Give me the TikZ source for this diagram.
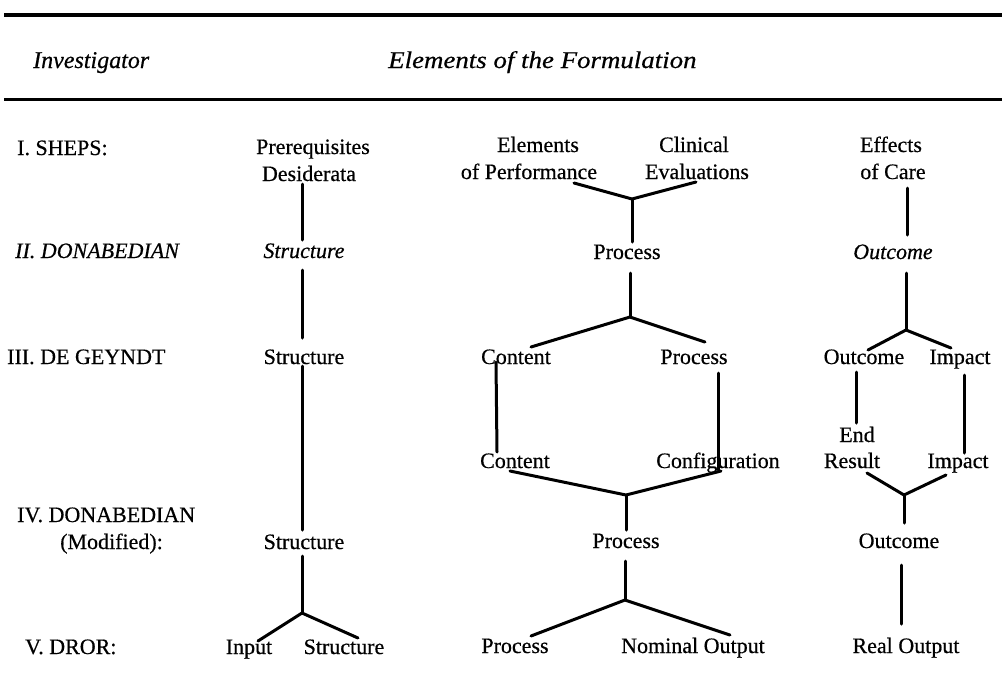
\documentclass[tikz,border=0pt]{standalone}
\usepackage{fontspec}
\setmainfont{Liberation Serif}[FakeBold=0.5]
\begin{document}
\begin{tikzpicture}[x=1pt,y=-1pt,
  lbl/.style={inner sep=0pt,anchor=base,font=\fontsize{22}{26}\selectfont},
  lbll/.style={lbl,anchor=base west},
  hdr/.style={inner sep=0pt,anchor=base west,font=\fontsize{24}{28}\selectfont\itshape},
  link/.style={line width=3pt,line cap=round,line join=round},
  rulethick/.style={line width=4pt},
  rulethin/.style={line width=3pt}]
\useasboundingbox (0,0) rectangle (1002,678);
% rules
\coordinate (r1a) at (4,15); \coordinate (r1b) at (1002,15);
\coordinate (r2a) at (4,99); \coordinate (r2b) at (1002,99);
\draw[rulethick] (r1a) -- (r1b);
\draw[rulethin] (r2a) -- (r2b);
% header
\node[hdr] (hinv) at (33,68) {Investigator};
\node[hdr] (helem) at (388,68) {\scalebox{1.12}[1]{Elements of the Formulation}};
% row labels
\node[lbll] (n1) at (17,155) {I. SHEPS:};
\node[lbll,font=\fontsize{22}{26}\selectfont\itshape] (n2) at (15,258) {II. DONABEDIAN};
\node[lbll] (n3) at (7,364) {III. DE GEYNDT};
\node[lbll] (n4) at (17,522) {IV. DONABEDIAN};
\node[lbll] (n4b) at (60,549) {(Modified):};
\node[lbll] (n5) at (25,654) {V. DROR:};
% column 1
\node[lbl] (prereq) at (313,154) {Prerequisites};
\node[lbl] (desid) at (309,181) {Desiderata};
\node[lbl,font=\fontsize{22}{26}\selectfont\itshape] (struc2) at (304,258) {Structure};
\node[lbl] (struc3) at (304,364) {Structure};
\node[lbl] (struc4) at (304,549) {Structure};
\node[lbl] (input) at (249,654) {Input};
\node[lbl] (struc5) at (344,654) {Structure};
% column 2
\node[lbl] (elem) at (538,152) {Elements};
\node[lbl] (perf) at (529,179) {of Performance};
\node[lbl] (clin) at (694,152) {Clinical};
\node[lbl] (eval) at (697,179) {Evaluations};
\node[lbl] (proc2) at (627,259) {Process};
\node[lbl] (cont3) at (516,364) {Content};
\node[lbl] (proc3) at (694,364) {Process};
\node[lbl] (cont4) at (515,468) {Content};
\node[lbl] (config) at (718,468) {Configuration};
\node[lbl] (proc4) at (626,548) {Process};
\node[lbl] (proc5) at (515,653) {Process};
\node[lbl] (nomout) at (693,653) {Nominal Output};
% column 3
\node[lbl] (effects) at (891,152) {Effects};
\node[lbl] (ofcare) at (893,179) {of Care};
\node[lbl,font=\fontsize{22}{26}\selectfont\itshape] (out2) at (893,259) {Outcome};
\node[lbl] (out3) at (864,364) {Outcome};
\node[lbl] (imp3) at (960,364) {Impact};
\node[lbl] (endr) at (857,442) {End};
\node[lbl] (result) at (852,468) {Result};
\node[lbl] (imp4) at (958,468) {Impact};
\node[lbl] (out4) at (899,548) {Outcome};
\node[lbl] (realout) at (906,653) {Real Output};
% junctions
\coordinate (jA) at (632,199);
\coordinate (jB) at (630,317);
\coordinate (jC) at (626,495);
\coordinate (jD) at (625,600);
\coordinate (jE) at (302,613);
\coordinate (jF) at (906,330);
\coordinate (jG) at (904,495);
% connector ends
\coordinate (desidB) at (302,184); \coordinate (struc2T) at (302,240);
\coordinate (struc2B) at (302,270); \coordinate (struc3T) at (302,338);
\coordinate (struc3B) at (302,366); \coordinate (struc4T) at (302,530);
\coordinate (struc4B) at (302,556);
\coordinate (inputT) at (258,641); \coordinate (struc5T) at (358,638);
\coordinate (perfB) at (574,183); \coordinate (evalB) at (696,182);
\coordinate (proc2T) at (632,242); \coordinate (proc2B) at (630,273);
\coordinate (cont3T) at (531,347); \coordinate (proc3T) at (705,342);
\coordinate (cont3B) at (496,362); \coordinate (cont4T) at (497,452);
\coordinate (proc3B) at (718,373); \coordinate (configT) at (718,470);
\coordinate (cont4B) at (510,471); \coordinate (configB) at (721,471);
\coordinate (proc4T) at (626,530); \coordinate (proc4B) at (625,561);
\coordinate (proc5T) at (531,636); \coordinate (nomoutT) at (730,635);
\coordinate (ofcareB) at (907,188); \coordinate (out2T) at (907,235);
\coordinate (out2B) at (906,273);
\coordinate (out3T) at (868,350); \coordinate (imp3T) at (951,348);
\coordinate (out3B) at (856,372); \coordinate (endT) at (856,423);
\coordinate (imp3B) at (964,375); \coordinate (imp4T) at (964,453);
\coordinate (resultB) at (867,473); \coordinate (imp4B) at (946,475);
\coordinate (out4T) at (904,523); \coordinate (out4B) at (901,565);
\coordinate (realT) at (901,624);
% connectors column 1
\draw[link] (desidB) -- (struc2T);
\draw[link] (struc2B) -- (struc3T);
\draw[link] (struc3B) -- (struc4T);
\draw[link] (struc4B) -- (jE);
\draw[link] (inputT) -- (jE) -- (struc5T);
% connectors column 2
\draw[link] (perfB) -- (jA) -- (evalB);
\draw[link] (jA) -- (proc2T);
\draw[link] (proc2B) -- (jB);
\draw[link] (cont3T) -- (jB) -- (proc3T);
\draw[link] (cont3B) -- (cont4T);
\draw[link] (proc3B) -- (configT);
\draw[link] (cont4B) -- (jC) -- (configB);
\draw[link] (jC) -- (proc4T);
\draw[link] (proc4B) -- (jD);
\draw[link] (proc5T) -- (jD) -- (nomoutT);
% connectors column 3
\draw[link] (ofcareB) -- (out2T);
\draw[link] (out2B) -- (jF);
\draw[link] (out3T) -- (jF) -- (imp3T);
\draw[link] (out3B) -- (endT);
\draw[link] (imp3B) -- (imp4T);
\draw[link] (resultB) -- (jG) -- (imp4B);
\draw[link] (jG) -- (out4T);
\draw[link] (out4B) -- (realT);
\end{tikzpicture}
\end{document}
